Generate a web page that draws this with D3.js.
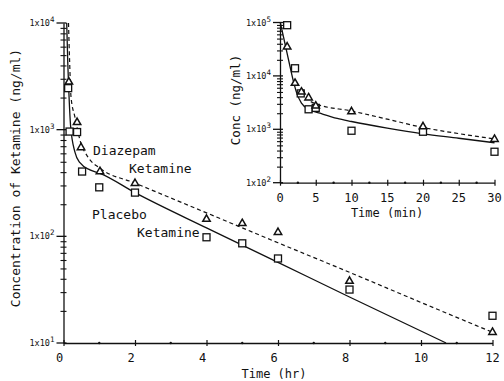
<!DOCTYPE html>
<html>
<head>
<meta charset="utf-8">
<script src="https://cdn.jsdelivr.net/npm/d3@7"></script>
<style>
  body { margin: 0; background: #fff; }
  svg { display: block; }
  text { font-family: "DejaVu Sans Mono", monospace; fill: #111; }
</style>
</head>
<body>
<div id="chart"></div>
<script>
const width = 504;
const height = 381;

// main panel: hours vs ng/ml
const hourTicks = [0, 2, 4, 6, 8, 10, 12];
const diazepamPoints = [[0.15, 2800], [0.38, 1170], [0.49, 680], [1.02, 405], [2, 314], [4, 145], [5, 132], [6, 109], [8, 38], [12, 12.6]];
const placeboPoints = [[0.13, 2450], [0.17, 960], [0.38, 950], [0.52, 405], [1, 288], [2, 257], [4, 98], [5, 86], [6, 62], [8, 31.7], [12, 18]];
const diazepamCurve = [[0.14, 10000], [0.17, 4500], [0.21, 2030], [0.32, 1310], [0.46, 800], [0.69, 550], [1.02, 435], [2, 316], [4, 166], [6, 87], [8, 46], [10, 24], [12, 12.6]];
const placeboCurve = [[0.09, 10000], [0.12, 4200], [0.14, 2740], [0.2, 1070], [0.32, 615], [0.46, 490], [0.74, 420], [1.02, 390], [2, 257], [4, 120], [6, 57], [8, 27], [10.7, 10]];

// inset: minutes vs ng/ml
const minuteTicks = [0, 5, 10, 15, 20, 25, 30];
const insetDiazepam = [[1, 35000], [2.1, 7300], [3, 5000], [4, 3900], [5, 2740], [10, 2140], [20, 1120], [30, 650]];
const insetPlacebo = [[1, 89000], [2.1, 13900], [2.9, 4700], [4, 2370], [5, 2520], [10, 940], [20, 900], [30, 380]];
const insetDiazepamCurve = [[4.3, 3300], [5, 3000], [10, 2200], [15, 1550], [20, 1080], [25, 830], [30, 660]];
const insetPlaceboCurve = [[0.05, 98000], [0.7, 40000], [1.4, 15000], [1.9, 7700], [2.35, 4700], [3, 3100], [4.2, 2300], [5.6, 2000], [8, 1600], [10, 1400], [15, 1050], [20, 820], [25, 680], [30, 560]];

const svg = d3.select("#chart").append("svg")
  .attr("width", width)
  .attr("height", height);

function drawPanel(opts) {
  const x = d3.scaleLinear().domain(opts.xDomain).range(opts.xRange);
  const y = d3.scaleLog().domain(opts.yDomain).range(opts.yRange);
  const g = svg.append("g");

  // x axis with cross ticks
  const xAxis = d3.axisBottom(x).tickValues(opts.xTicks).tickSize(0).tickFormat("");
  const xg = g.append("g")
    .attr("transform", `translate(0,${opts.yRange[0]})`)
    .call(xAxis);
  xg.select(".domain").attr("stroke", "#111").attr("stroke-width", 1.3);
  xg.selectAll(".tick line").attr("y1", -3).attr("y2", 3).attr("stroke", "#111").attr("stroke-width", 1.2);

  // small dots between major ticks
  g.selectAll("circle.minor-x")
    .data(opts.xMinor)
    .enter().append("circle")
    .attr("class", "minor-x")
    .attr("cx", d => x(d))
    .attr("cy", opts.yRange[0])
    .attr("r", 1.2)
    .attr("fill", "#111");

  g.selectAll("text.xlab")
    .data(opts.xTicks)
    .enter().append("text")
    .attr("class", "xlab")
    .attr("x", d => x(d) + (d < 10 ? opts.singleShift : 0))
    .attr("y", opts.yRange[0] + opts.xLabelDy)
    .attr("text-anchor", "middle")
    .attr("font-size", 12)
    .text(d => d);

  // y axis: decades with minor crosses
  const decades = d3.range(Math.log10(opts.yDomain[0]), Math.log10(opts.yDomain[1]) + 1).map(p => Math.pow(10, p));
  const minors = [];
  decades.slice(0, -1).forEach(dec => {
    for (let k = 2; k <= 9; k++) minors.push(dec * k);
  });
  const yAxis = d3.axisLeft(y).tickValues(minors).tickSize(0).tickFormat("");
  const yg = g.append("g")
    .attr("transform", `translate(${opts.xRange[0]},0)`)
    .call(yAxis);
  yg.select(".domain").attr("stroke", "#111").attr("stroke-width", 1.3);
  yg.selectAll(".tick line").attr("x1", -3).attr("x2", 3).attr("stroke", "#111").attr("stroke-width", 1.1);

  g.selectAll("line.major")
    .data(decades)
    .enter().append("line")
    .attr("class", "major")
    .attr("x1", opts.xRange[0] - 7)
    .attr("x2", opts.xRange[0] + 3)
    .attr("y1", d => y(d))
    .attr("y2", d => y(d))
    .attr("stroke", "#111")
    .attr("stroke-width", 1.3);

  const ylab = g.selectAll("text.ylab")
    .data(decades)
    .enter().append("text")
    .attr("class", "ylab")
    .attr("x", opts.xRange[0] - 9)
    .attr("y", d => y(d) + 3)
    .attr("text-anchor", "end")
    .attr("font-size", 8.5);
  ylab.append("tspan").text("1x10");
  ylab.append("tspan")
    .attr("dy", -4)
    .attr("font-size", 7.5)
    .text(d => Math.round(Math.log10(d)));

  // curves
  const line = d3.line().x(d => x(d[0])).y(d => y(d[1])).curve(d3.curveMonotoneX);
  g.append("path")
    .datum(opts.placeboCurve)
    .attr("d", line)
    .attr("fill", "none")
    .attr("stroke", "#111")
    .attr("stroke-width", 1.3);
  g.append("path")
    .datum(opts.diazepamCurve)
    .attr("d", line)
    .attr("fill", "none")
    .attr("stroke", "#111")
    .attr("stroke-width", 1.2)
    .attr("stroke-dasharray", "4,3");

  // markers
  g.selectAll("rect.placebo")
    .data(opts.placebo)
    .enter().append("rect")
    .attr("class", "placebo")
    .attr("x", d => x(d[0]) - 3.5)
    .attr("y", d => y(d[1]) - 3.5)
    .attr("width", 7)
    .attr("height", 7)
    .attr("fill", "#fff")
    .attr("stroke", "#111")
    .attr("stroke-width", 1.3);

  const tri = d3.symbol().type(d3.symbolTriangle).size(24);
  g.selectAll("path.diazepam")
    .data(opts.diazepam)
    .enter().append("path")
    .attr("class", "diazepam")
    .attr("transform", d => `translate(${x(d[0])},${y(d[1])})`)
    .attr("d", tri)
    .attr("fill", "#fff")
    .attr("stroke", "#111")
    .attr("stroke-width", 1.5);

  return { x, y, g };
}

drawPanel({
  xDomain: [0, 12], xRange: [63.5, 492.5],
  yDomain: [10, 10000], yRange: [343, 23],
  xTicks: hourTicks, xMinor: [1, 3, 5, 7, 9, 11],
  xLabelDy: 19, singleShift: -4,
  placebo: placeboPoints, diazepam: diazepamPoints,
  placeboCurve: placeboCurve, diazepamCurve: diazepamCurve
});

drawPanel({
  xDomain: [0, 30], xRange: [280, 494.5],
  yDomain: [100, 100000], yRange: [182.7, 22.5],
  xTicks: minuteTicks, xMinor: [2.5, 7.5, 12.5, 17.5, 22.5, 27.5],
  xLabelDy: 19, singleShift: 0,
  placebo: insetPlacebo, diazepam: insetDiazepam,
  placeboCurve: insetPlaceboCurve, diazepamCurve: insetDiazepamCurve
});

// axis titles
svg.append("text")
  .attr("x", 274).attr("y", 378)
  .attr("text-anchor", "middle").attr("font-size", 12)
  .text("Time (hr)");

svg.append("text")
  .attr("transform", "translate(20,178) rotate(-90)")
  .attr("text-anchor", "middle").attr("font-size", 13)
  .text("Concentration of Ketamine (ng/ml)");

svg.append("text")
  .attr("x", 387).attr("y", 217)
  .attr("text-anchor", "middle").attr("font-size", 12)
  .text("Time (min)");

svg.append("text")
  .attr("transform", "translate(240,100) rotate(-90)")
  .attr("text-anchor", "middle").attr("font-size", 12.5)
  .text("Conc (ng/ml)");

// series annotations
const notes = [
  { text: "Diazepam", x: 93, y: 155 },
  { text: "Ketamine", x: 129, y: 173 },
  { text: "Placebo", x: 92, y: 219 },
  { text: "Ketamine", x: 137, y: 237 }
];
svg.selectAll("text.note")
  .data(notes)
  .enter().append("text")
  .attr("class", "note")
  .attr("x", d => d.x)
  .attr("y", d => d.y)
  .attr("font-size", 13)
  .text(d => d.text);
</script>
</body>
</html>
